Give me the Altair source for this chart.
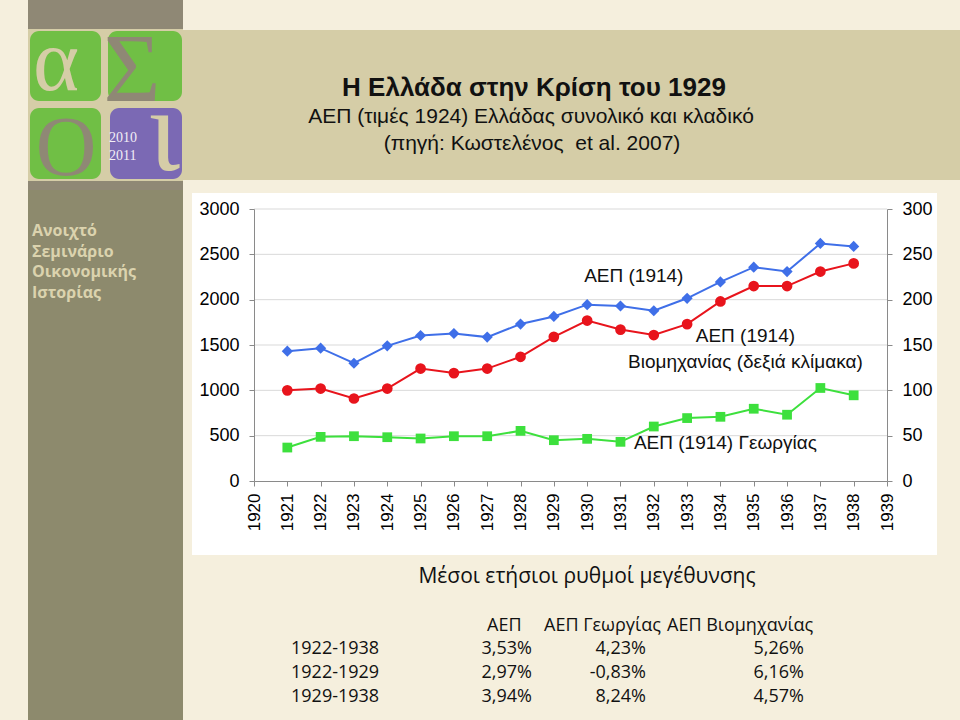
import altair as alt
import pandas as pd

# ---------------- data ----------------
years = list(range(1921, 1939))
gdp_total = [1432, 1465, 1299, 1491, 1605, 1627, 1587, 1731, 1815, 1945,
             1930, 1878, 2015, 2196, 2358, 2310, 2620, 2587]
gdp_industry = [100, 102, 91, 102, 124, 119, 124, 137, 159, 177,
                167, 161, 173, 198, 215, 215, 231, 240]
gdp_agriculture = [369, 487, 494, 483, 469, 494, 494, 553, 450, 465,
                   432, 601, 694, 708, 797, 731, 1026, 945]

x_ticks = list(range(1920, 1940))
left_ticks = [0, 500, 1000, 1500, 2000, 2500, 3000]
right_ticks = [0, 50, 100, 150, 200, 250, 300]
grid_values = [500, 1000, 1500, 2000, 2500, 3000]

annot_labels = ["ΑΕΠ (1914)", "ΑΕΠ (1914)", "Βιομηχανίας (δεξιά κλίμακα)", "ΑΕΠ (1914) Γεωργίας"]
annot_years = [1931.4, 1934.75, 1934.75, 1934.15]
annot_values = [2260, 1600, 1315, 415]

title_lines = ["Η Ελλάδα στην Κρίση του 1929",
               "ΑΕΠ (τιμές 1924) Ελλάδας συνολικό και κλαδικό",
               "(πηγή: Κωστελένος\u00a0 et al. 2007)"]
sidebar_lines = ["Ανοιχτό", "Σεμινάριο", "Οικονομικής", "Ιστορίας"]

table_title = "Μέσοι ετήσιοι ρυθμοί μεγέθυνσης"
table_headers = ["ΑΕΠ", "ΑΕΠ Γεωργίας", "ΑΕΠ Βιομηχανίας"]
table_periods = ["1922-1938", "1922-1929", "1929-1938"]
rate_gdp = ["3,53%", "2,97%", "3,94%"]
rate_agriculture = ["4,23%", "-0,83%", "8,24%"]
rate_industry = ["5,26%", "6,16%", "4,57%"]

# ---------------- layout / style ----------------
W, H = 960, 720
OX, OY = 254, 209          # plot origin on the page
PW, PH = 633, 272          # plot size

CREAM = "#F5EFDD"
TAN = "#D5CDA7"
OLIVE = "#8D8A6D"
GREYBROWN = "#8F8875"
GREEN_LOGO = "#70BF45"
PURPLE = "#7B69B4"
BLUE = "#3F6FE8"
RED = "#E8141C"
GREEN = "#3DE03D"
AXIS_GREY = "#8A8A8A"
GRID_GREY = "#D9D9D9"


def rx(v):
    return v - OX


def ry(v):
    return v - OY


def rect_layer(rows, corner=0):
    df = pd.DataFrame([{"x": rx(a), "x2": rx(b), "y": ry(c), "y2": ry(d), "c": col}
                       for a, b, c, d, col in rows])
    return alt.Chart(df).mark_rect(cornerRadius=corner).encode(
        x=alt.X("x:Q", scale=None, axis=None),
        x2="x2",
        y=alt.Y("y:Q", scale=None, axis=None),
        y2="y2",
        color=alt.Color("c:N", scale=None),
    )


def text_layer(rows, font, weight="normal", align="left", baseline="middle"):
    df = pd.DataFrame([{"t": t, "x": rx(x), "y": ry(y), "s": s, "c": c}
                       for t, x, y, s, c in rows])
    return alt.Chart(df).mark_text(font=font, fontWeight=weight, align=align,
                                   baseline=baseline).encode(
        x=alt.X("x:Q", scale=None, axis=None),
        y=alt.Y("y:Q", scale=None, axis=None),
        text="t:N",
        size=alt.Size("s:Q", scale=None),
        color=alt.Color("c:N", scale=None),
    )


# background decoration
bg_rects = rect_layer([
    (28, 183, 190, 720, OLIVE),
    (28, 183, 0, 29, GREYBROWN),
    (28, 183, 29, 181, TAN),
    (28, 183, 181, 190, GREYBROWN),
    (183, 960, 30, 180, TAN),
    (192, 937, 193, 555, "#FFFFFF"),
])
logo_squares = rect_layer([
    (30, 101, 31, 101, GREEN_LOGO),
    (108, 182, 31, 101, GREEN_LOGO),
    (30, 101, 108, 179, GREEN_LOGO),
    (110, 182, 108, 179, PURPLE),
], corner=9)
logo_text = text_layer([
    ("α", 56, 90, 88, TAN),
    ("Σ", 132, 101, 98, GREYBROWN),
    ("Ο", 66, 175, 84, GREYBROWN),
], font="Liberation Serif", align="center", baseline="alphabetic")
logo_iota = text_layer([
    ("ι", 164, 170, 118, TAN),
], font="Liberation Serif", align="center", baseline="alphabetic")
logo_years = text_layer([
    ("2010", 109, 142, 14, "#F2EEF6"),
    ("2011", 109, 160, 14, "#F2EEF6"),
], font="Liberation Serif", baseline="alphabetic")
sidebar_text = text_layer([
    (sidebar_lines[0], 32, 236, 16, "#DBD3AE"),
    (sidebar_lines[1], 32, 257, 16, "#DBD3AE"),
    (sidebar_lines[2], 32, 277, 16, "#DBD3AE"),
    (sidebar_lines[3], 32, 298, 16, "#DBD3AE"),
], font="Open Sans", weight="bold", baseline="alphabetic")
title_bold = text_layer([(title_lines[0], 534, 88, 26, "#111111")],
                        font="Liberation Sans", weight="bold", align="center")
title_sub = text_layer([(title_lines[1], 531, 117, 21, "#111111"),
                        (title_lines[2], 532, 144, 21, "#111111")],
                       font="Liberation Sans", align="center")

# table
tbl_title = text_layer([(table_title, 587, 577, 21, "#111111")],
                       font="Open Sans", align="center")
tbl_head = text_layer([(table_headers[0], 487, 626, 18, "#111111"),
                       (table_headers[1], 544, 626, 18, "#111111"),
                       (table_headers[2], 667, 626, 18, "#111111")],
                      font="Open Sans")
row_y = [649, 673, 697]
tbl_rows = text_layer([(p, 291, y, 18, "#111111") for p, y in zip(table_periods, row_y)],
                      font="Open Sans")
tbl_vals = text_layer(
    [(v, 532, y, 18, "#111111") for v, y in zip(rate_gdp, row_y)]
    + [(v, 646, y, 18, "#111111") for v, y in zip(rate_agriculture, row_y)]
    + [(v, 804, y, 18, "#111111") for v, y in zip(rate_industry, row_y)],
    font="Open Sans", align="right")

# ---------------- chart ----------------
df = pd.DataFrame({"year": years, "total": gdp_total, "industry": gdp_industry,
                   "agriculture": gdp_agriculture})

x_scale = alt.Scale(domain=[1920, 1939], nice=False, zero=False)
x_axis = alt.Axis(values=x_ticks, format="d", labelAngle=270, labelFont="Liberation Sans",
                  labelFontSize=17, labelColor="#000000", tickSize=5, tickColor=AXIS_GREY,
                  domainColor=AXIS_GREY, labelPadding=7, grid=False, title=None, zindex=1,
                  labelOverlap=False, labelFlush=False)
yl_scale = alt.Scale(domain=[0, 3000], nice=False)
yl_axis = alt.Axis(values=left_ticks, format="d", labelFont="Liberation Sans", labelFontSize=18,
                   labelColor="#000000", tickSize=5, tickColor=AXIS_GREY, domainColor=AXIS_GREY,
                   labelPadding=10, grid=False, title=None, zindex=1, labelFlush=False)
yr_scale = alt.Scale(domain=[0, 300], nice=False)
yr_axis = alt.Axis(values=right_ticks, format="d", orient="right", labelFont="Liberation Sans",
                   labelFontSize=18, labelColor="#000000", tickSize=5, tickColor=AXIS_GREY,
                   domainColor=AXIS_GREY, labelPadding=10, grid=False, title=None, zindex=1,
                   labelFlush=False)

grid = alt.Chart(pd.DataFrame({"g": grid_values})).mark_rule(
    color=GRID_GREY, strokeWidth=1).encode(
    y=alt.Y("g:Q", scale=yl_scale, axis=yl_axis))

blue = alt.Chart(df).mark_line(
    color=BLUE, strokeWidth=2,
    point=alt.OverlayMarkDef(shape="diamond", size=125, filled=True, color=BLUE, opacity=1)
).encode(x=alt.X("year:Q", scale=x_scale, axis=x_axis),
         y=alt.Y("total:Q", scale=yl_scale, axis=yl_axis))

green = alt.Chart(df).mark_line(
    color=GREEN, strokeWidth=2,
    point=alt.OverlayMarkDef(shape="square", size=95, filled=True, color=GREEN, opacity=1)
).encode(x=alt.X("year:Q", scale=x_scale, axis=x_axis),
         y=alt.Y("agriculture:Q", scale=yl_scale, axis=yl_axis))

annots = alt.Chart(pd.DataFrame({"label": annot_labels, "year": annot_years,
                                 "value": annot_values})).mark_text(
    font="Liberation Sans", fontSize=19, color="#111111", align="center", baseline="middle"
).encode(x=alt.X("year:Q", scale=x_scale, axis=x_axis),
         y=alt.Y("value:Q", scale=yl_scale, axis=yl_axis),
         text="label:N")

left_group = alt.layer(grid, blue, green, annots)

red = alt.Chart(df).mark_line(
    color=RED, strokeWidth=2,
    point=alt.OverlayMarkDef(shape="circle", size=115, filled=True, color=RED, opacity=1)
).encode(x=alt.X("year:Q", scale=x_scale, axis=x_axis),
         y=alt.Y("industry:Q", scale=yr_scale, axis=yr_axis))

chart = alt.layer(
    bg_rects, logo_squares, logo_text, logo_iota, logo_years, sidebar_text, title_bold, title_sub,
    left_group, red,
    tbl_title, tbl_head, tbl_rows, tbl_vals,
).resolve_scale(y="independent").properties(
    width=PW, height=PH,
    padding={"left": OX, "top": OY, "right": W - OX - PW, "bottom": H - OY - PH},
    autosize=alt.AutoSizeParams(type="none"),
).configure(background=CREAM).configure_view(stroke=None)

chart.save("out.html", embed_options={"renderer": "svg", "actions": False})
